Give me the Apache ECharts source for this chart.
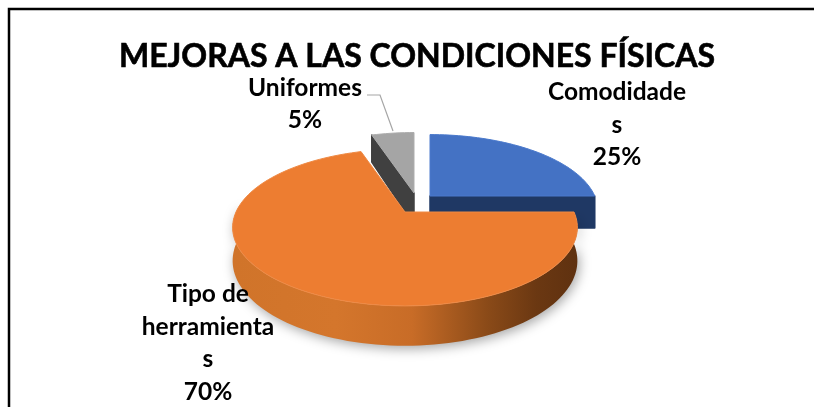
<!DOCTYPE html>
<html>
<head>
<meta charset="utf-8">
<script src="https://cdn.jsdelivr.net/npm/echarts@6/dist/echarts.min.js"></script>
<style>
  html, body { margin: 0; padding: 0; background: #fff; }
  #chart { width: 814px; height: 407px; }
</style>
</head>
<body>
<div id="chart"></div>
<script>
const chartTitle = "MEJORAS A LAS CONDICIONES FÍSICAS";
const categories = ["Comodidades", "Tipo de herramientas", "Uniformes"];
const percentages = [25, 70, 5];
// how each label is broken in the original
const labelLines = [["Comodidade", "s"], ["Tipo de", "herramienta", "s"], ["Uniformes"]];

const FONT = "Lato, Carlito, sans-serif";

// look of the tilted disc
const radiusX = 169;
const radiusY = 75.4;
const tilt = 0.197; // perspective: far side smaller, near side bigger
const depth = 32;

// per slice: apex on screen, size, colours, draw order, label place
const sliceStyles = [
  { apex: [430, 196], size: 0.975, top: "#4472c4", stroke: "#4a79cc", wall: "#1f3864", z: 1, label: [617, 92] },
  { apex: [405, 212], size: 1, top: "#ed7d31", stroke: "#ef8a45", wall: null, z: 3, label: [208, 294] },
  { apex: [414, 193], size: 0.96, top: "#a5a5a5", stroke: "#adadad", wall: "#404040", z: 2, label: [305, 88], lineGap: 32 }
];

function project(st, deg, r, h) {
  const a = deg * Math.PI / 180;
  const u = Math.sin(a) * r;
  const v = Math.cos(a) * r;
  const s = 1 / (1 + tilt * v);
  const k = st.size;
  return [st.apex[0] + radiusX * k * u * s, st.apex[1] + (-radiusY * k * v + depth * h) * s];
}

function arc(st, from, to, h) {
  const pts = [];
  const n = Math.max(2, Math.ceil(Math.abs(to - from) / 2));
  for (let i = 0; i <= n; i++) pts.push(project(st, from + (to - from) * i / n, 1, h));
  return pts;
}

function sliceStart(idx) {
  let sum = 0;
  for (let i = 0; i < idx; i++) sum += percentages[i];
  return sum * 3.6;
}

const orangeWall = new echarts.graphic.LinearGradient(0, 0, 1, 0, [
  { offset: 0, color: "#d0742a" },
  { offset: 0.3, color: "#d4762c" },
  { offset: 0.52, color: "#c86c27" },
  { offset: 0.74, color: "#8a4a18" },
  { offset: 0.88, color: "#6b3812" },
  { offset: 1, color: "#5f3110" }
]);

function renderSlice(params, api) {
  const idx = api.value(0);
  const st = sliceStyles[idx];
  const from = sliceStart(idx);
  const to = from + api.value(1) * 3.6;
  const children = [];

  if (idx === 1) {
    // round outer wall of the big slice, near side only
    const wallPts = arc(st, 90, 276, 0).concat(arc(st, 276, 90, 1));
    children.push({
      type: "polygon",
      z2: st.z,
      shape: { points: wallPts },
      style: { fill: orangeWall, shadowBlur: 12, shadowColor: "rgba(0,0,0,0.35)", shadowOffsetY: 3, shadowOffsetX: 2 }
    });
  } else {
    // cut face: front one for the blue slice, left one for the grey slice
    const edge = idx === 0 ? to : from;
    children.push({
      type: "polygon",
      z2: st.z,
      shape: { points: [project(st, edge, 0, 0), project(st, edge, 1, 0), project(st, edge, 1, 1), project(st, edge, 0, 1)] },
      style: { fill: st.wall, stroke: st.wall, lineJoin: "round", lineWidth: 1.5 }
    });
  }

  children.push({
    type: "polygon",
    z2: st.z,
    shape: { points: [st.apex].concat(arc(st, from, to, 0)) },
    style: { fill: st.top, stroke: st.stroke, lineWidth: 1, lineJoin: "round" }
  });

  return { type: "group", children: children };
}

// labels sit above every slice, in the same lines as the original
function labelGraphics() {
  const out = [];
  categories.forEach(function (name, i) {
    const st = sliceStyles[i];
    const lines = labelLines[i].concat([percentages[i] + "%"]);
    const gap = st.lineGap || 32.7;
    lines.forEach(function (line, j) {
      out.push({
        type: "text",
        z: 20,
        x: st.label[0],
        y: st.label[1] + j * gap,
        style: {
          text: line,
          align: "center",
          verticalAlign: "middle",
          font: "bold 24.5px " + FONT,
          fill: "#000"
        }
      });
    });
  });
  return out;
}

const chart = echarts.init(document.getElementById("chart"));
chart.setOption({
  animation: false,
  backgroundColor: "#fff",
  title: {
    text: chartTitle,
    left: 412,
    top: 36,
    textAlign: "center",
    textStyle: { fontFamily: FONT, fontWeight: "bold", fontSize: 32, color: "#000", textBorderColor: "#000", textBorderWidth: 0.6 }
  },
  tooltip: { show: false },
  graphic: [
    // frame of the picture, cut off on the right and at the bottom
    { type: "polyline", z: 30, shape: { points: [[9, 420], [9, 9], [830, 9]] }, style: { stroke: "#000", lineWidth: 2.5, fill: null } },
    // leader line for Uniformes
    { type: "polyline", z: 19, shape: { points: [[367, 95], [380, 95], [393, 131]] }, style: { stroke: "#a6a6a6", lineWidth: 1.2, fill: null } }
  ].concat(labelGraphics()),
  series: [
    {
      type: "custom",
      coordinateSystem: "none",
      silent: true,
      renderItem: renderSlice,
      data: categories.map(function (name, i) { return { name: name, value: [i, percentages[i]] }; })
    }
  ]
});
</script>
</body>
</html>
